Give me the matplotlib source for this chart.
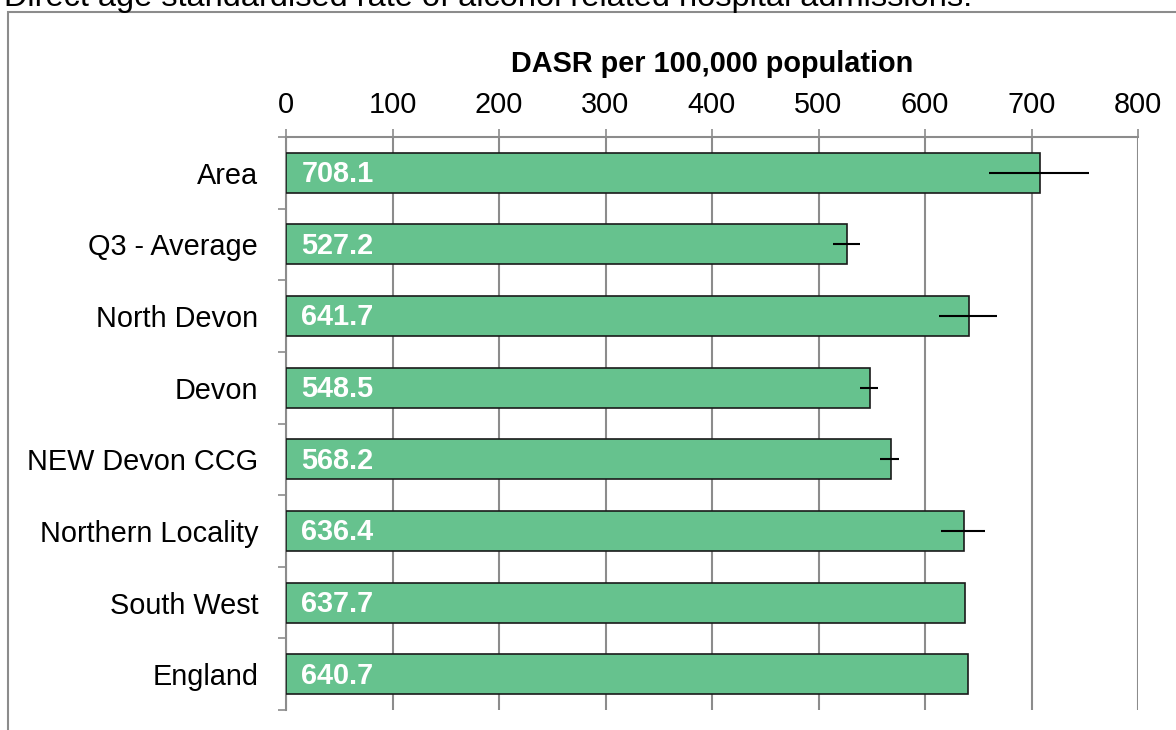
import numpy as np
import matplotlib.pyplot as plt
from matplotlib.patches import Rectangle

plt.rcParams['font.family'] = ['Liberation Sans', 'DejaVu Sans']

# Data
areas = ['Area', 'Q3 - Average', 'North Devon', 'Devon', 'NEW Devon CCG',
         'Northern Locality', 'South West', 'England']
dasr = [708.1, 527.2, 641.7, 548.5, 568.2, 636.4, 637.7, 640.7]
ci_low = [660, 514, 613, 539, 558, 615, np.nan, np.nan]
ci_high = [754, 539, 668, 556, 576, 656, np.nan, np.nan]
x_ticks = [0, 100, 200, 300, 400, 500, 600, 700, 800]

grey = '#8c8c8c'
bar_col = '#66c28e'
fs = 20.8

fig = plt.figure(figsize=(11.76, 7.30), dpi=100)

# outer chart frame (partly cut off at the right and bottom)
fig.patches.append(Rectangle((8 / 1176, -0.05), 1.2, 1 - 12 / 730 + 0.05,
                             transform=fig.transFigure, fill=False,
                             edgecolor=grey, linewidth=1.5))
# chart title, cut off at the top edge as in the source
fig.text(4 / 1176, 1 - 6 / 730, 'Direct age standardised rate of alcohol related hospital admissions.',
         fontsize=23.4, va='baseline', ha='left')

ax = fig.add_axes([286 / 1176, 1 - 710 / 730, (1138 - 286) / 1176, (710 - 137) / 730])

y = np.arange(len(areas))
ax.barh(y, dasr, height=0.56, color=bar_col, edgecolor='#1a1a1a', linewidth=1.2, zorder=3)

lo = np.array(dasr) - np.array(ci_low)
hi = np.array(ci_high) - np.array(dasr)
mask = ~np.isnan(lo)
ax.errorbar(np.array(dasr)[mask], y[mask], xerr=[lo[mask], hi[mask]], fmt='none',
            ecolor='black', elinewidth=1.5, capsize=0, zorder=4)

for yi, v in zip(y, dasr):
    ax.annotate(f'{v:.1f}', xy=(0, yi), xytext=(11, -1), textcoords='offset points',
                color='white', fontsize=fs, fontweight='bold', va='center', ha='left', zorder=5)

ax.set_xlim(0, 800)
ax.set_ylim(len(areas) - 0.5, -0.5)
ax.set_xticks(x_ticks)
ax.xaxis.tick_top()
ax.xaxis.set_label_position('top')
ax.set_xlabel('DASR per 100,000 population', fontsize=fs, fontweight='bold', labelpad=14)
ax.tick_params(axis='x', labelsize=fs, direction='out', length=6, width=1.2, color=grey, pad=7)

ax.set_yticks(np.arange(len(areas) + 1) - 0.5)
ax.set_yticklabels([])
ax.set_yticks(y, minor=True)
ax.set_yticklabels(areas, minor=True, fontsize=fs)
ax.tick_params(axis='y', which='major', direction='out', length=6, width=1.2, color=grey)
ax.tick_params(axis='y', which='minor', length=0, pad=20)

ax.grid(axis='x', color=grey, linewidth=1.5, zorder=0)
ax.set_axisbelow(True)
for s in ['right', 'bottom']:
    ax.spines[s].set_visible(False)
for s in ['top', 'left']:
    ax.spines[s].set_color(grey)
    ax.spines[s].set_linewidth(1.5)

plt.savefig('out.png', dpi=100)
